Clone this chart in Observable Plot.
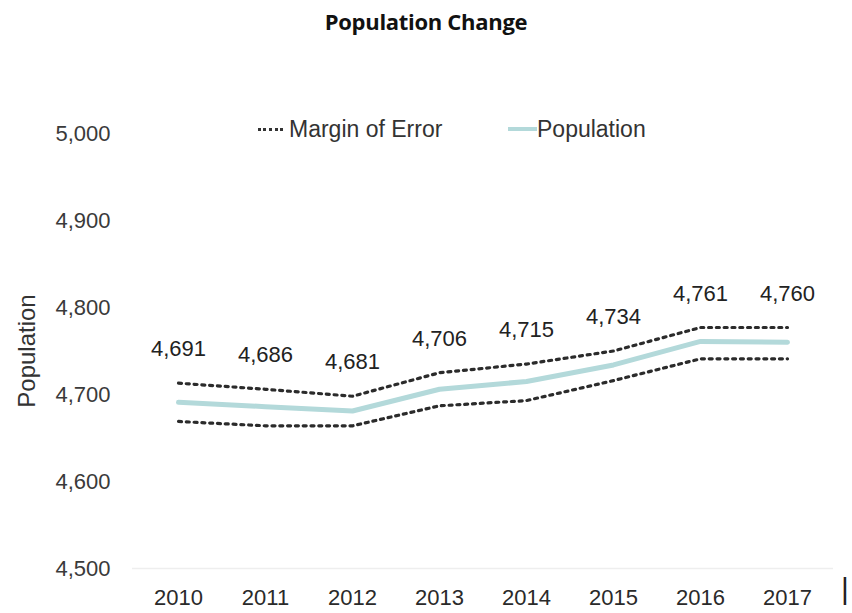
<!DOCTYPE html>
<html>
<head>
<meta charset="utf-8">
<script src="https://cdn.jsdelivr.net/npm/d3@7"></script>
<script src="https://cdn.jsdelivr.net/npm/@observablehq/plot@0.6"></script>
<style>
  body { margin: 0; background: #fff; width: 852px; height: 613px; position: relative; overflow: hidden; }
  #title { height: 45px; box-sizing: border-box; padding-top: 6px; line-height: 34px; text-align: center; font: bold 22px "Open Sans", sans-serif; color: #111; letter-spacing: -0.3px; }
  #legend { position: absolute; top: 115px; left: 0; width: 852px; height: 28px; font: 23px "Liberation Sans", Arial, sans-serif; color: #333; }
  .item { position: absolute; top: 0; display: flex; align-items: center; height: 28px; }
  .sw { display: inline-block; width: 25px; height: 0; margin-right: 6px; }
  #stray { position: absolute; left: 841px; top: 572px; font: 30px "Liberation Sans", Arial, sans-serif; color: #222; }
</style>
</head>
<body>
<div id="title">Population Change</div>
<div id="legend">
  <div class="item" style="left:258px"><span class="sw" style="border-top:3px dotted #333;"></span>Margin of Error</div>
  <div class="item" style="left:508px"><span class="sw" style="border-top:4px solid #b3d9da; margin-right:0; width:29px"></span>Population</div>
</div>
<div id="chart"></div>
<div id="stray">|</div>
<script>
const years = ["2010","2011","2012","2013","2014","2015","2016","2017"];
const population = [4691, 4686, 4681, 4706, 4715, 4734, 4761, 4760];
const moeUpper = [4713, 4706, 4698, 4725, 4735, 4750, 4777, 4777];
const moeLower = [4669, 4664, 4664, 4687, 4693, 4716, 4741, 4741];
const yTicks = [4500, 4600, 4700, 4800, 4900, 5000];

const data = years.map((y, i) => ({year: y, pop: population[i], hi: moeUpper[i], lo: moeLower[i]}));
const fmt = d3.format(",");

const chart = Plot.plot({
  width: 852,
  height: 568,
  marginTop: 88,
  marginBottom: 45,
  marginLeft: 132,
  marginRight: 19,
  style: {fontFamily: "'Liberation Sans', Arial, sans-serif", fontSize: "22px", color: "#333", background: "#fff"},
  x: {type: "point", domain: years, padding: 0.5, label: null},
  y: {domain: [4500, 5000], ticks: yTicks, tickFormat: fmt, label: null},
  marks: [
    Plot.ruleY([4500], {stroke: "#eeeeee", strokeWidth: 1.5}),
    Plot.axisY({ticks: yTicks, tickFormat: fmt, tickSize: 0, tickPadding: 22, fontSize: 22, fill: "#3a3a3a", label: null}),
    Plot.axisX({tickSize: 0, tickPadding: 21, fontSize: 22, fill: "#2a2a2a", label: null}),
    Plot.text(["Population"], {frameAnchor: "left", textAnchor: "middle", rotate: -90, dx: -105, fontSize: 24, fill: "#333"}),
    Plot.line(data, {x: "year", y: "hi", stroke: "#2b2b2b", strokeWidth: 3.2, strokeDasharray: "3 4.8"}),
    Plot.line(data, {x: "year", y: "lo", stroke: "#2b2b2b", strokeWidth: 3.2, strokeDasharray: "3 4.8"}),
    Plot.line(data, {x: "year", y: "pop", stroke: "#b3d9da", strokeWidth: 5}),
    Plot.text(data, {x: "year", y: "hi", text: d => fmt(d.pop), dy: -34, fontSize: 22, fill: "#222"})
  ]
});
document.getElementById("chart").appendChild(chart);
</script>
</body>
</html>
